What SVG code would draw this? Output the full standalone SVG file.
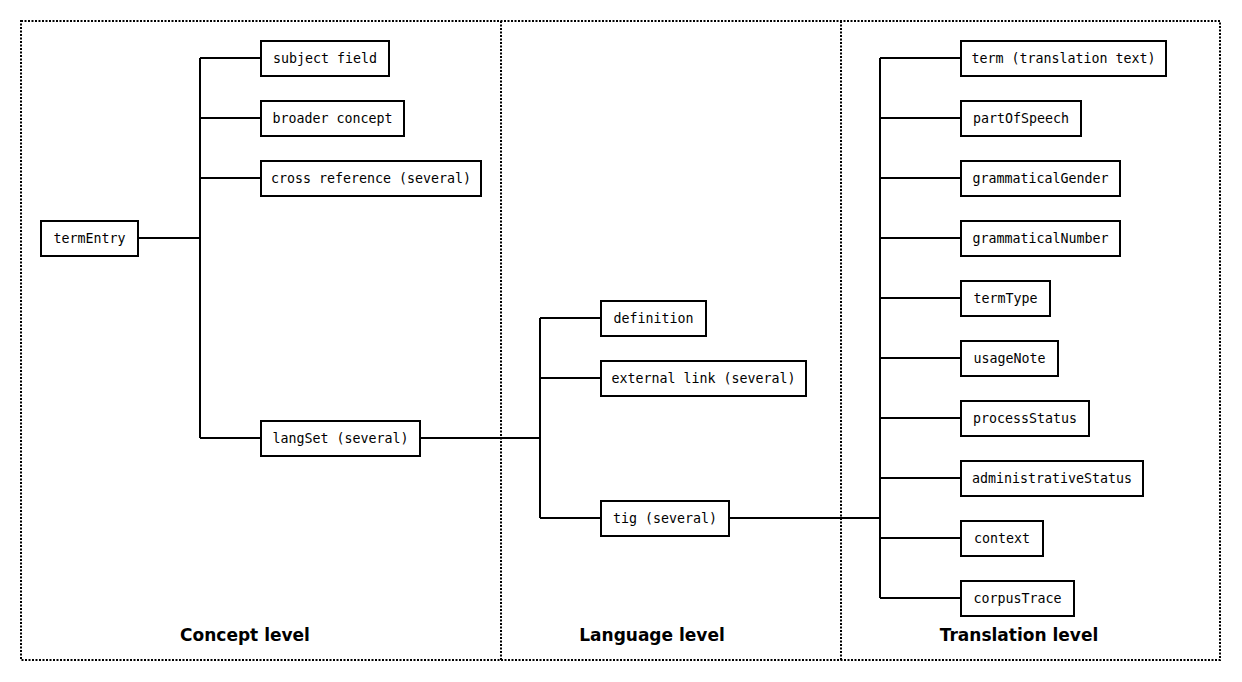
<svg xmlns="http://www.w3.org/2000/svg" width="1242" height="682" viewBox="0 0 1242 682">
<style>
.box{fill:#fff;stroke:#000;stroke-width:2}
.t{font-family:"DejaVu Sans Mono","Liberation Mono",monospace;font-size:13.3px;text-anchor:middle;dominant-baseline:central;fill:#000}
.lbl{font-family:"DejaVu Sans","Liberation Sans",sans-serif;font-size:17px;font-weight:bold;text-anchor:middle;fill:#000}
.dot{fill:none;stroke:#000;stroke-width:2;stroke-dasharray:2 1.5}
.c{fill:none;stroke:#000;stroke-width:2}
</style>
<rect width="1242" height="682" fill="#fff"/>
<g id="frame">
<rect class="dot" x="21" y="21" width="1199" height="639"/>
<line class="dot" x1="501" y1="21" x2="501" y2="660"/>
<line class="dot" x1="841" y1="21" x2="841" y2="660"/>
<text class="lbl" x="245" y="641">Concept level</text>
<text class="lbl" x="652" y="641">Language level</text>
<text class="lbl" x="1019" y="641">Translation level</text>
</g>
<g id="connectors">
<path class="c" d="M138 238H200M200 58V438M200 58H260M200 118H260M200 178H260M200 438H260"/>
<path class="c" d="M420 438H540M540 318V518M540 318H600M540 378H600M540 518H600"/>
<path class="c" d="M729 518H880M880 58V598M880 58H960M880 118H960M880 178H960M880 238H960M880 298H960M880 358H960M880 418H960M880 478H960M880 538H960M880 598H960"/>
</g>
<g id="termEntry"><rect class="box" x="41" y="221" width="97" height="35"/><text class="t" x="89.5" y="238.5">termEntry</text></g>
<g id="subjectField"><rect class="box" x="261" y="41" width="128" height="35"/><text class="t" x="325" y="58.5">subject field</text></g>
<g id="broaderConcept"><rect class="box" x="261" y="101" width="143" height="35"/><text class="t" x="332.5" y="118.5">broader concept</text></g>
<g id="crossReference"><rect class="box" x="261" y="161" width="220" height="35"/><text class="t" x="371" y="178.5">cross reference (several)</text></g>
<g id="langSet"><rect class="box" x="261" y="421" width="159" height="35"/><text class="t" x="340.5" y="438.5">langSet (several)</text></g>
<g id="definition"><rect class="box" x="601" y="301" width="105" height="35"/><text class="t" x="653.5" y="318.5">definition</text></g>
<g id="externalLink"><rect class="box" x="601" y="361" width="205" height="35"/><text class="t" x="703.5" y="378.5">external link (several)</text></g>
<g id="tig"><rect class="box" x="601" y="501" width="128" height="35"/><text class="t" x="665" y="518.5">tig (several)</text></g>
<g id="term"><rect class="box" x="961" y="41" width="205" height="35"/><text class="t" x="1063.5" y="58.5">term (translation text)</text></g>
<g id="partOfSpeech"><rect class="box" x="961" y="101" width="120" height="35"/><text class="t" x="1021" y="118.5">partOfSpeech</text></g>
<g id="grammaticalGender"><rect class="box" x="961" y="161" width="159" height="35"/><text class="t" x="1040.5" y="178.5">grammaticalGender</text></g>
<g id="grammaticalNumber"><rect class="box" x="961" y="221" width="159" height="35"/><text class="t" x="1040.5" y="238.5">grammaticalNumber</text></g>
<g id="termType"><rect class="box" x="961" y="281" width="89" height="35"/><text class="t" x="1005.5" y="298.5">termType</text></g>
<g id="usageNote"><rect class="box" x="961" y="341" width="97" height="35"/><text class="t" x="1009.5" y="358.5">usageNote</text></g>
<g id="processStatus"><rect class="box" x="961" y="401" width="128" height="35"/><text class="t" x="1025" y="418.5">processStatus</text></g>
<g id="administrativeStatus"><rect class="box" x="961" y="461" width="182" height="35"/><text class="t" x="1052" y="478.5">administrativeStatus</text></g>
<g id="context"><rect class="box" x="961" y="521" width="82" height="35"/><text class="t" x="1002" y="538.5">context</text></g>
<g id="corpusTrace"><rect class="box" x="961" y="581" width="113" height="35"/><text class="t" x="1017.5" y="598.5">corpusTrace</text></g>
</svg>
